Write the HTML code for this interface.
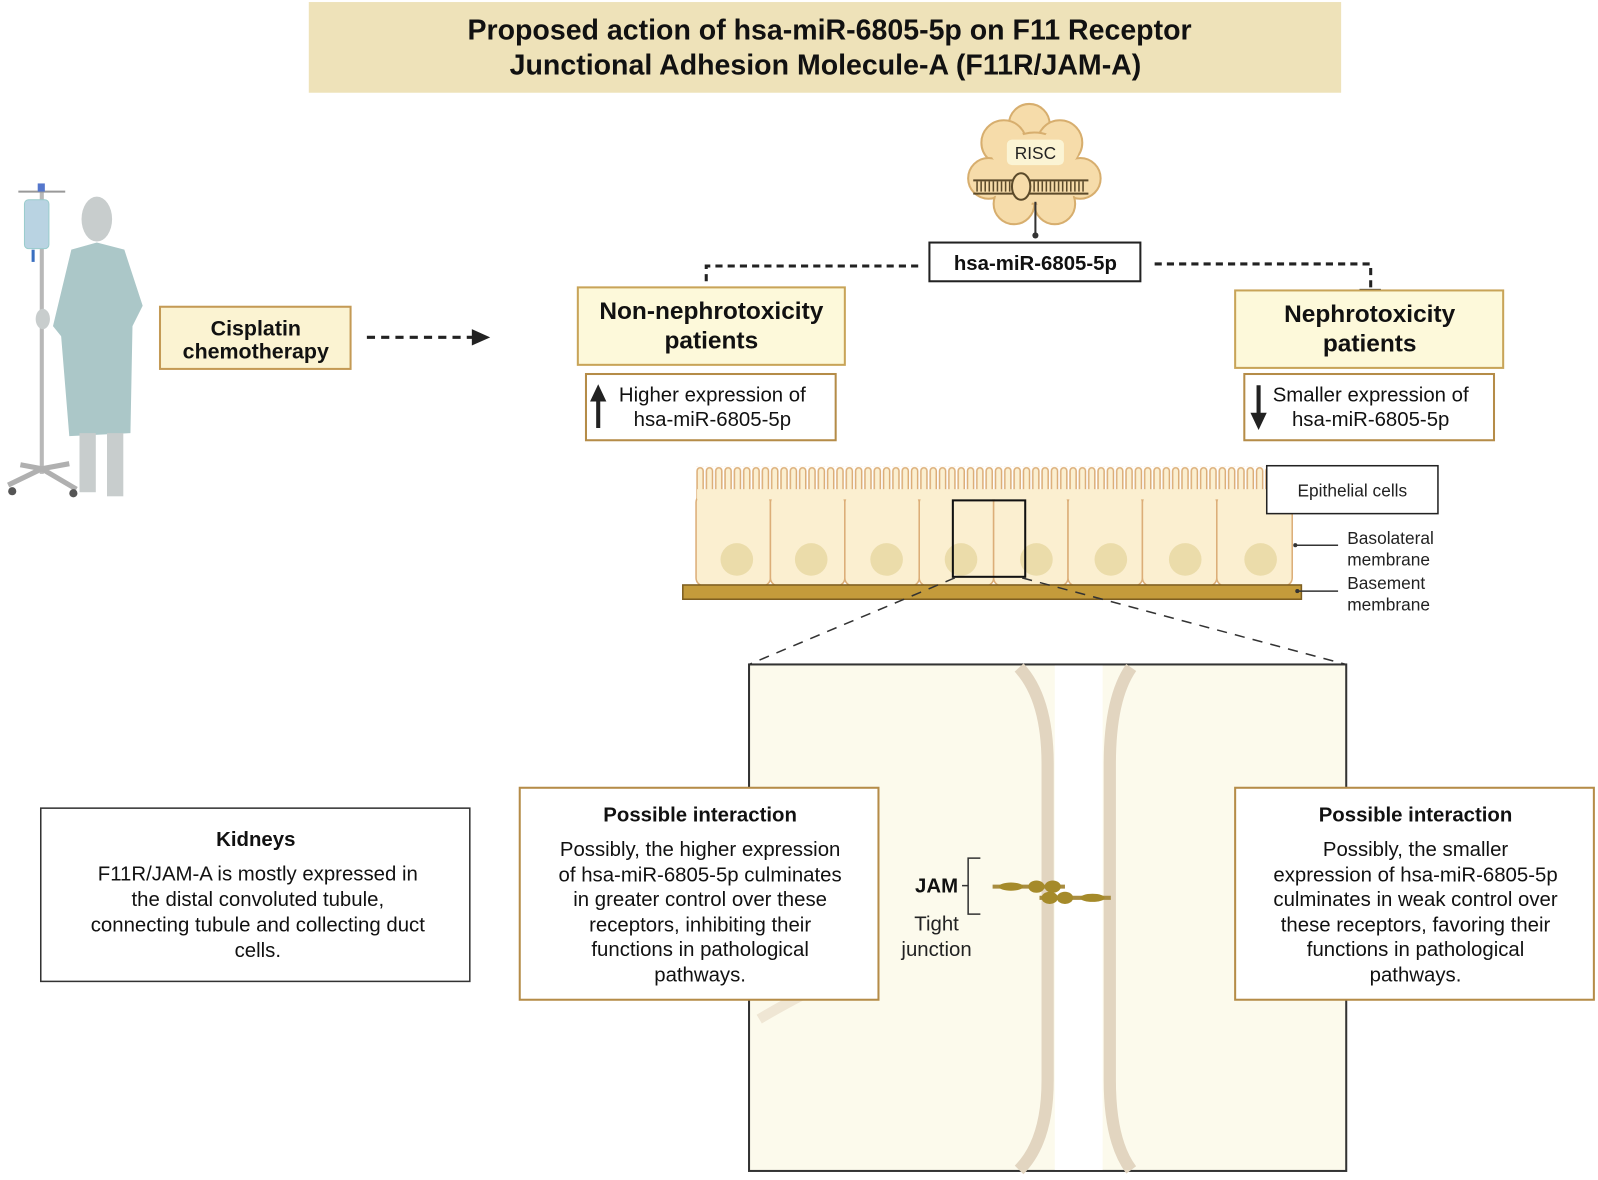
<!DOCTYPE html>
<html><head><meta charset="utf-8"><style>
body{margin:0;background:#fff;}
svg text{font-family:"Liberation Sans",sans-serif;}
</style></head><body>
<svg width="1598" height="1175" viewBox="0 0 1598 1175" xmlns="http://www.w3.org/2000/svg">
<defs>
<pattern id="mv" x="683" y="458" width="9.15" height="40" patternUnits="userSpaceOnUse">
<rect x="1" y="1" width="6" height="42" rx="3" fill="#fbefd0" stroke="#dcae78" stroke-width="1.5"/>
</pattern>
</defs>
<g transform="scale(1.0191)">
<!-- title -->
<rect x="303" y="2" width="1013" height="89" fill="#eee2b9"/>
<text x="814" y="39" font-size="28" font-weight="bold" text-anchor="middle" fill="#111">Proposed action of hsa-miR-6805-5p on F11 Receptor</text>
<text x="810" y="73" font-size="28" font-weight="bold" text-anchor="middle" fill="#111">Junctional Adhesion Molecule-A (F11R/JAM-A)</text>

<!-- patient -->
<g>
<line x1="41" y1="185" x2="41" y2="465" stroke="#b8b8b8" stroke-width="4"/>
<path d="M18 188 L64 188" stroke="#999" stroke-width="2" fill="none"/>
<rect x="37" y="180" width="7" height="8" fill="#5577cc"/>
<rect x="24" y="196" width="24" height="48" rx="4" fill="#b9d3e2" stroke="#9cc" stroke-width="1"/>
<rect x="31" y="245" width="3" height="12" fill="#3a6fc0"/>
<path d="M8 476 L41 460 L75 480 M41 460 L20 456 M41 460 L68 455" stroke="#b0b0b0" stroke-width="5" fill="none"/>
<circle cx="12" cy="482" r="4" fill="#555"/><circle cx="72" cy="484" r="4" fill="#555"/>
<ellipse cx="95" cy="215" rx="15" ry="22" fill="#c8cdcd"/>
<path d="M70 245 L95 238 L122 245 L140 300 L130 320 L128 425 L68 428 L60 330 L52 320 Z" fill="#abc7c8"/>
<rect x="78" y="425" width="16" height="58" fill="#c8cdcd"/>
<rect x="105" y="425" width="16" height="62" fill="#c8cdcd"/>
<ellipse cx="42" cy="313" rx="7" ry="10" fill="#c8cdcd"/>
</g>

<!-- cisplatin -->
<rect x="157" y="301" width="187" height="61" fill="#fbf3d2" stroke="#c49a55" stroke-width="2"/>
<text x="251" y="329" font-size="21" font-weight="bold" text-anchor="middle" fill="#111">Cisplatin</text>
<text x="251" y="352" font-size="21" font-weight="bold" text-anchor="middle" fill="#111">chemotherapy</text>
<line x1="360" y1="331" x2="466" y2="331" stroke="#222" stroke-width="3" stroke-dasharray="8,6"/>
<path d="M463 323 L481 331 L463 339 Z" fill="#222"/>

<!-- RISC -->
<g fill="#f6dcaa" stroke="#d7ae6e" stroke-width="2">
<circle cx="1010" cy="122" r="20"/><circle cx="985" cy="140" r="22"/><circle cx="1040" cy="140" r="22"/>
<circle cx="970" cy="175" r="20"/><circle cx="1060" cy="175" r="20"/><circle cx="995" cy="200" r="20"/>
<circle cx="1035" cy="200" r="20"/><circle cx="1015" cy="165" r="35"/>
</g>
<g fill="#f6dcaa"><circle cx="1015" cy="165" r="33"/><circle cx="990" cy="145" r="19"/><circle cx="1040" cy="145" r="19"/><circle cx="995" cy="195" r="18"/><circle cx="1035" cy="195" r="18"/><circle cx="972" cy="175" r="18"/><circle cx="1058" cy="175" r="18"/></g>
<rect x="988" y="137" width="56" height="25" rx="5" fill="#fbf4d4"/>
<text x="1016" y="156" font-size="17" text-anchor="middle" fill="#222">RISC</text>
<line x1="955" y1="177" x2="1068" y2="177" stroke="#5b4a2a" stroke-width="2"/>
<line x1="955" y1="190" x2="1068" y2="190" stroke="#5b4a2a" stroke-width="2"/>
<line x1="958" y1="183" x2="1066" y2="183" stroke="#5b4a2a" stroke-width="10" stroke-dasharray="1.5,2.5"/>
<ellipse cx="1002" cy="183" rx="9" ry="13" fill="#f6dcaa" stroke="#5b4a2a" stroke-width="2"/>
<line x1="1016" y1="198" x2="1016" y2="230" stroke="#333" stroke-width="2"/>
<circle cx="1016" cy="231" r="3" fill="#333"/>

<!-- hsa -->
<rect x="912" y="238" width="207" height="38" fill="#fff" stroke="#222" stroke-width="2"/>
<text x="1016" y="265" font-size="20" font-weight="bold" text-anchor="middle" fill="#111">hsa-miR-6805-5p</text>
<path d="M901 261 L693 261 L693 280" stroke="#222" stroke-width="3" stroke-dasharray="7,5" fill="none"/>
<line x1="683" y1="283" x2="703" y2="283" stroke="#222" stroke-width="3"/>
<path d="M1133 259 L1345 259 L1345 282" stroke="#222" stroke-width="3" stroke-dasharray="7,5" fill="none"/>
<line x1="1334" y1="285" x2="1355" y2="285" stroke="#222" stroke-width="3"/>

<rect x="567" y="282" width="262" height="76" fill="#fdf9da" stroke="#c8a458" stroke-width="2"/>
<text x="698" y="313" font-size="24" font-weight="bold" text-anchor="middle" fill="#111">Non-nephrotoxicity</text>
<text x="698" y="342" font-size="24" font-weight="bold" text-anchor="middle" fill="#111">patients</text>
<rect x="1212" y="285" width="263" height="76" fill="#fdf9da" stroke="#c8a458" stroke-width="2"/>
<text x="1344" y="316" font-size="24" font-weight="bold" text-anchor="middle" fill="#111">Nephrotoxicity</text>
<text x="1344" y="345" font-size="24" font-weight="bold" text-anchor="middle" fill="#111">patients</text>

<rect x="575" y="367" width="245" height="65" fill="#fff" stroke="#b58c48" stroke-width="2"/>
<path d="M587 377 L579 394 L585 394 L585 420 L589 420 L589 394 L595 394 Z" fill="#222"/>
<text x="699" y="394" font-size="20" text-anchor="middle" fill="#111">Higher expression of</text>
<text x="699" y="418" font-size="20" text-anchor="middle" fill="#111">hsa-miR-6805-5p</text>
<rect x="1221" y="367" width="245" height="65" fill="#fff" stroke="#b58c48" stroke-width="2"/>
<path d="M1235 422 L1227 405 L1233 405 L1233 378 L1237 378 L1237 405 L1243 405 Z" fill="#222"/>
<text x="1345" y="394" font-size="20" text-anchor="middle" fill="#111">Smaller expression of</text>
<text x="1345" y="418" font-size="20" text-anchor="middle" fill="#111">hsa-miR-6805-5p</text>

<!-- epithelium -->
<rect x="683" y="458" width="585" height="40" fill="url(#mv)"/>
<g fill="#fbefd0" stroke="#dcae78" stroke-width="1.5">
<rect x="683" y="485" width="73" height="90" rx="8"/><rect x="756" y="485" width="73" height="90" rx="8"/>
<rect x="829" y="485" width="73" height="90" rx="8"/><rect x="902" y="485" width="73" height="90" rx="8"/>
<rect x="975" y="485" width="73" height="90" rx="8"/><rect x="1048" y="485" width="73" height="90" rx="8"/>
<rect x="1121" y="485" width="73" height="90" rx="8"/><rect x="1194" y="485" width="74" height="90" rx="8"/>
</g>
<rect x="684" y="480" width="583" height="10" fill="#fbefd0"/>
<g fill="#ebdcaa">
<ellipse cx="723" cy="549" rx="16" ry="16"/><ellipse cx="796" cy="549" rx="16" ry="16"/><ellipse cx="870" cy="549" rx="16" ry="16"/><ellipse cx="943" cy="549" rx="16" ry="16"/>
<ellipse cx="1017" cy="549" rx="16" ry="16"/><ellipse cx="1090" cy="549" rx="16" ry="16"/><ellipse cx="1163" cy="549" rx="16" ry="16"/><ellipse cx="1237" cy="549" rx="16" ry="16"/>
</g>
<rect x="670" y="574" width="607" height="14" fill="#c49b3b" stroke="#7d5e20" stroke-width="1.5"/>
<rect x="935" y="491" width="71" height="75" fill="none" stroke="#111" stroke-width="2"/>
<rect x="1243" y="457" width="168" height="47" fill="#fff" stroke="#222" stroke-width="1.5"/>
<text x="1327" y="487" font-size="17" text-anchor="middle" fill="#222">Epithelial cells</text>
<line x1="1271" y1="535" x2="1313" y2="535" stroke="#333" stroke-width="1.5"/><circle cx="1271" cy="535" r="2" fill="#333"/>
<line x1="1273" y1="580" x2="1313" y2="580" stroke="#333" stroke-width="1.5"/><circle cx="1273" cy="580" r="2" fill="#333"/>
<text x="1322" y="534" font-size="17" fill="#222">Basolateral</text>
<text x="1322" y="555" font-size="17" fill="#222">membrane</text>
<text x="1322" y="578" font-size="17" fill="#222">Basement</text>
<text x="1322" y="599" font-size="17" fill="#222">membrane</text>
<line x1="937" y1="567" x2="735" y2="652" stroke="#333" stroke-width="1.5" stroke-dasharray="10,8"/>
<line x1="1003" y1="567" x2="1321" y2="652" stroke="#333" stroke-width="1.5" stroke-dasharray="10,8"/>

<!-- zoom box -->
<rect x="735" y="652" width="586" height="497" fill="#fcfaec" stroke="#333" stroke-width="2"/>
<rect x="1035" y="653" width="47" height="495" fill="#fff"/>
<path d="M1000 655 Q1028 685 1028 750 L1028 1060 Q1028 1120 1000 1148" stroke="#e2d5c0" stroke-width="12" fill="none"/>
<path d="M1110 655 Q1089 685 1089 750 L1089 1060 Q1089 1120 1110 1148" stroke="#e2d5c0" stroke-width="12" fill="none"/>
<path d="M745 1000 Q770 985 800 970" stroke="#efe6d4" stroke-width="10" fill="none"/>
<g>
<line x1="974" y1="870" x2="1045" y2="870" stroke="#a88c40" stroke-width="4"/>
<line x1="1020" y1="881" x2="1090" y2="881" stroke="#a88c40" stroke-width="4"/>
<ellipse cx="992" cy="870" rx="12" ry="4" fill="#a58a2a"/>
<ellipse cx="1017" cy="870" rx="8" ry="6" fill="#a58a2a"/><ellipse cx="1033" cy="870" rx="8" ry="6" fill="#a58a2a"/>
<ellipse cx="1030" cy="881" rx="8" ry="6" fill="#a58a2a"/><ellipse cx="1045" cy="881" rx="8" ry="6" fill="#a58a2a"/>
<ellipse cx="1072" cy="881" rx="12" ry="4" fill="#a58a2a"/>
</g>
<path d="M962 842 L950 842 L950 897 L962 897 M950 869 L944 869" stroke="#333" stroke-width="1.5" fill="none"/>
<text x="919" y="876" font-size="20" font-weight="bold" text-anchor="middle" fill="#111">JAM</text>
<text x="919" y="913" font-size="20" text-anchor="middle" fill="#222">Tight</text>
<text x="919" y="938" font-size="20" text-anchor="middle" fill="#222">junction</text>

<!-- kidneys -->
<rect x="40" y="793" width="421" height="170" fill="#fff" stroke="#333" stroke-width="1.5"/>
<text x="251" y="830" font-size="20" font-weight="bold" text-anchor="middle" fill="#111">Kidneys</text>
<g font-size="20" text-anchor="middle" fill="#111">
<text x="253" y="864">F11R/JAM-A is mostly expressed in</text>
<text x="253" y="889">the distal convoluted tubule,</text>
<text x="253" y="914">connecting tubule and collecting duct</text>
<text x="253" y="939">cells.</text>
</g>

<rect x="510" y="773" width="352" height="208" fill="#fff" stroke="#b58c48" stroke-width="2"/>
<text x="687" y="806" font-size="20" font-weight="bold" text-anchor="middle" fill="#111">Possible interaction</text>
<g font-size="20" text-anchor="middle" fill="#111">
<text x="687" y="840">Possibly, the higher expression</text>
<text x="687" y="865">of hsa-miR-6805-5p culminates</text>
<text x="687" y="889">in greater control over these</text>
<text x="687" y="914">receptors, inhibiting their</text>
<text x="687" y="938">functions in pathological</text>
<text x="687" y="963">pathways.</text>
</g>
<rect x="1212" y="773" width="352" height="208" fill="#fff" stroke="#b58c48" stroke-width="2"/>
<text x="1389" y="806" font-size="20" font-weight="bold" text-anchor="middle" fill="#111">Possible interaction</text>
<g font-size="20" text-anchor="middle" fill="#111">
<text x="1389" y="840">Possibly, the smaller</text>
<text x="1389" y="865">expression of hsa-miR-6805-5p</text>
<text x="1389" y="889">culminates in weak control over</text>
<text x="1389" y="914">these receptors, favoring their</text>
<text x="1389" y="938">functions in pathological</text>
<text x="1389" y="963">pathways.</text>
</g>
</g>
</svg>
</body></html>
